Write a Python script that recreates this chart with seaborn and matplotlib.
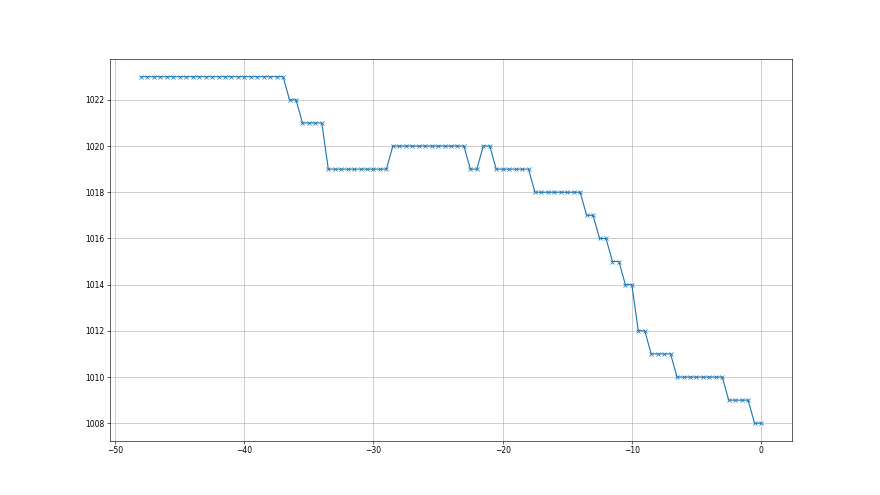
from matplotlib import pyplot as plt
import pandas as pd
import seaborn as sns
import numpy as np

# Hours relative to now, one reading every half hour
hours = np.arange(-48, 0.5, 0.5)

# Pressure readings (hPa)
pressure = [
    1023, 1023, 1023, 1023, 1023, 1023, 1023, 1023, 1023, 1023,
    1023, 1023, 1023, 1023, 1023, 1023, 1023, 1023, 1023, 1023,
    1023, 1023, 1023,
    1022, 1022,
    1021, 1021, 1021, 1021,
    1019, 1019, 1019, 1019, 1019, 1019, 1019, 1019, 1019, 1019,
    1020, 1020, 1020, 1020, 1020, 1020, 1020, 1020, 1020, 1020, 1020, 1020,
    1019, 1019,
    1020, 1020,
    1019, 1019, 1019, 1019, 1019, 1019,
    1018, 1018, 1018, 1018, 1018, 1018, 1018, 1018,
    1017, 1017,
    1016, 1016,
    1015, 1015,
    1014, 1014,
    1012, 1012,
    1011, 1011, 1011, 1011,
    1010, 1010, 1010, 1010, 1010, 1010, 1010, 1010,
    1009, 1009, 1009, 1009,
    1008, 1008,
]

df = pd.DataFrame({'hours': hours, 'pressure': pressure})

# Create a figure and axis
fig, ax = plt.subplots(figsize=(16, 9), dpi=55)

# Draw the pressure line with cross markers
sns.lineplot(
    data=df, x='hours', y='pressure', ax=ax,
    marker='x', color='#1f77b4', markeredgecolor='#1f77b4',
    markeredgewidth=1.0, markersize=6, linewidth=1.5,
)

# Grid and labels
ax.grid(True)
ax.set_xlabel('')
ax.set_ylabel('')
ax.set_xticks([-50, -40, -30, -20, -10, 0])

# Save the figure
plt.savefig('out.png', dpi=55)
